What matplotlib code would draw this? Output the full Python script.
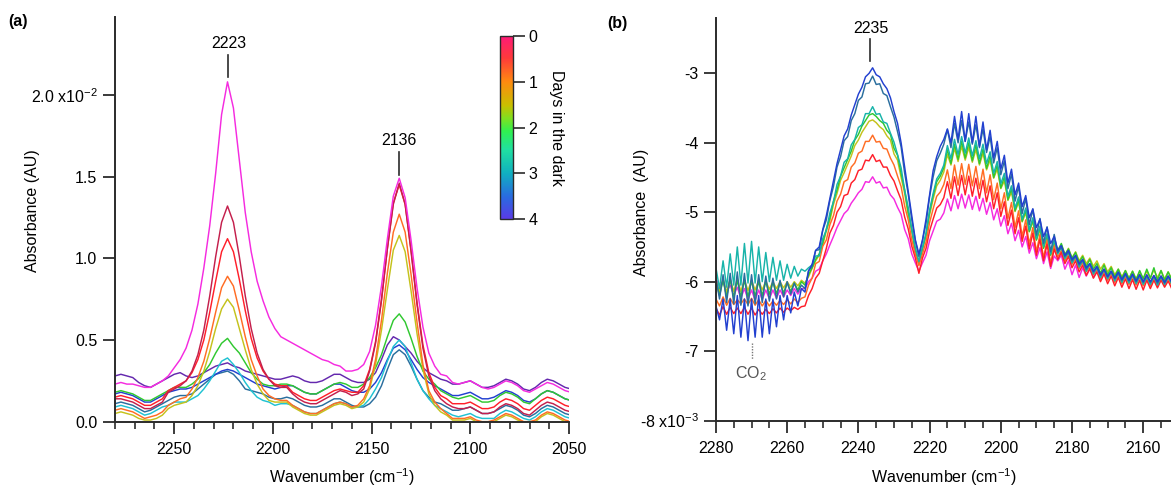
import numpy as np
import matplotlib
matplotlib.use('Agg')
import matplotlib.pyplot as plt
from matplotlib.colors import LinearSegmentedColormap, Normalize
from matplotlib.ticker import MultipleLocator, FixedLocator, FixedFormatter
import matplotlib.colorbar as mcolorbar

plt.rcParams['font.family'] = ['Liberation Sans', 'DejaVu Sans']
plt.rcParams['mathtext.default'] = 'regular'
FS = 11.5
AX_COL = '#2b2b2b'

# ---------------- Panel (a) data: absorbance in units of 1e-2 ----------------
wn_a = np.arange(2283, 2048, -3)   # 2283 ... 2049 cm-1

a_magenta = [0.23, 0.23, 0.24, 0.23, 0.23, 0.22, 0.21, 0.21, 0.23, 0.25,
             0.28, 0.33, 0.38, 0.45, 0.56, 0.72, 0.94, 1.20, 1.52, 1.88,
             2.08, 1.92, 1.60, 1.28, 1.04, 0.86, 0.74, 0.64, 0.57, 0.52,
             0.50, 0.48, 0.46, 0.44, 0.42, 0.40, 0.38, 0.37, 0.35, 0.34,
             0.31, 0.31, 0.32, 0.35, 0.43, 0.59, 0.83, 1.12, 1.38, 1.49,
             1.37, 1.11, 0.82, 0.58, 0.42, 0.34, 0.29, 0.28, 0.24, 0.23,
             0.24, 0.25, 0.23, 0.21, 0.20, 0.21, 0.23, 0.25, 0.24, 0.22,
             0.19, 0.18, 0.20, 0.22, 0.24, 0.23, 0.21, 0.19, 0.18]
a_crimson = [0.13, 0.14, 0.14, 0.13, 0.12, 0.10, 0.08, 0.08, 0.10, 0.12,
             0.18, 0.20, 0.22, 0.25, 0.31, 0.41, 0.56, 0.77, 1.01, 1.22,
             1.32, 1.22, 1.01, 0.77, 0.57, 0.42, 0.32, 0.26, 0.22, 0.21,
             0.21, 0.17, 0.14, 0.12, 0.11, 0.11, 0.13, 0.15, 0.17, 0.19,
             0.18, 0.16, 0.17, 0.20, 0.31, 0.48, 0.74, 1.06, 1.33, 1.46,
             1.33, 1.04, 0.72, 0.45, 0.28, 0.19, 0.14, 0.11, 0.09, 0.08,
             0.08, 0.09, 0.07, 0.05, 0.05, 0.06, 0.09, 0.11, 0.10, 0.08,
             0.05, 0.04, 0.07, 0.10, 0.12, 0.11, 0.09, 0.07, 0.06]
a_red = [0.15, 0.15, 0.16, 0.15, 0.14, 0.12, 0.10, 0.10, 0.12, 0.14,
         0.19, 0.21, 0.23, 0.25, 0.30, 0.38, 0.50, 0.67, 0.86, 1.04,
         1.12, 1.04, 0.87, 0.68, 0.51, 0.39, 0.31, 0.26, 0.23, 0.22,
         0.22, 0.18, 0.16, 0.14, 0.13, 0.13, 0.15, 0.17, 0.19, 0.20,
         0.19, 0.18, 0.18, 0.22, 0.32, 0.49, 0.75, 1.06, 1.34, 1.45,
         1.33, 1.05, 0.73, 0.47, 0.30, 0.21, 0.16, 0.14, 0.11, 0.11,
         0.11, 0.12, 0.10, 0.08, 0.08, 0.09, 0.12, 0.14, 0.13, 0.11,
         0.08, 0.07, 0.10, 0.13, 0.15, 0.14, 0.12, 0.10, 0.09]
a_orange = [0.07, 0.07, 0.08, 0.07, 0.06, 0.04, 0.02, 0.03, 0.04, 0.06,
            0.10, 0.12, 0.14, 0.15, 0.20, 0.27, 0.37, 0.51, 0.67, 0.82,
            0.89, 0.83, 0.68, 0.52, 0.38, 0.28, 0.20, 0.16, 0.14, 0.13,
            0.13, 0.10, 0.08, 0.06, 0.05, 0.05, 0.07, 0.09, 0.11, 0.12,
            0.11, 0.09, 0.10, 0.14, 0.22, 0.38, 0.62, 0.91, 1.16, 1.27,
            1.16, 0.90, 0.61, 0.35, 0.19, 0.12, 0.08, 0.05, 0.02, 0.02,
            0.02, 0.03, 0.01, 0.00, 0.00, 0.01, 0.03, 0.05, 0.04, 0.02,
            0.00, 0.00, 0.01, 0.04, 0.06, 0.05, 0.03, 0.01, 0.00]
a_yellow = [0.05, 0.05, 0.06, 0.05, 0.04, 0.02, 0.01, 0.01, 0.02, 0.04,
            0.08, 0.10, 0.11, 0.12, 0.16, 0.22, 0.31, 0.43, 0.57, 0.69,
            0.75, 0.70, 0.57, 0.44, 0.32, 0.23, 0.17, 0.13, 0.12, 0.12,
            0.12, 0.09, 0.07, 0.05, 0.04, 0.04, 0.06, 0.08, 0.10, 0.11,
            0.10, 0.08, 0.09, 0.12, 0.20, 0.35, 0.56, 0.81, 1.05, 1.14,
            1.04, 0.80, 0.54, 0.32, 0.17, 0.10, 0.06, 0.04, 0.01, 0.01,
            0.01, 0.02, 0.00, 0.00, 0.00, 0.00, 0.02, 0.04, 0.03, 0.01,
            0.00, 0.00, 0.00, 0.03, 0.05, 0.04, 0.02, 0.00, 0.00]
a_green = [0.18, 0.18, 0.19, 0.18, 0.17, 0.15, 0.13, 0.13, 0.15, 0.17,
           0.19, 0.21, 0.21, 0.21, 0.23, 0.26, 0.30, 0.35, 0.42, 0.48,
           0.51, 0.46, 0.42, 0.36, 0.30, 0.26, 0.23, 0.22, 0.22, 0.23,
           0.23, 0.22, 0.20, 0.18, 0.17, 0.17, 0.19, 0.21, 0.23, 0.24,
           0.23, 0.21, 0.21, 0.23, 0.27, 0.33, 0.41, 0.52, 0.62, 0.66,
           0.61, 0.51, 0.40, 0.31, 0.26, 0.23, 0.19, 0.17, 0.15, 0.14,
           0.15, 0.16, 0.14, 0.12, 0.12, 0.13, 0.16, 0.18, 0.17, 0.15,
           0.12, 0.11, 0.14, 0.17, 0.19, 0.18, 0.16, 0.14, 0.13]
a_cyan = [0.09, 0.09, 0.10, 0.09, 0.08, 0.06, 0.04, 0.05, 0.07, 0.09,
          0.10, 0.12, 0.12, 0.12, 0.14, 0.16, 0.20, 0.25, 0.31, 0.37,
          0.39, 0.35, 0.30, 0.24, 0.19, 0.15, 0.13, 0.12, 0.10, 0.11,
          0.11, 0.10, 0.08, 0.06, 0.05, 0.05, 0.07, 0.09, 0.11, 0.12,
          0.11, 0.09, 0.09, 0.10, 0.14, 0.20, 0.27, 0.37, 0.46, 0.50,
          0.46, 0.36, 0.26, 0.19, 0.14, 0.10, 0.08, 0.06, 0.04, 0.03,
          0.04, 0.05, 0.03, 0.02, 0.02, 0.02, 0.05, 0.07, 0.06, 0.04,
          0.02, 0.01, 0.03, 0.06, 0.08, 0.07, 0.05, 0.03, 0.02]
a_purple = [0.26, 0.28, 0.29, 0.28, 0.27, 0.24, 0.22, 0.21, 0.23, 0.25,
            0.27, 0.29, 0.30, 0.28, 0.27, 0.28, 0.30, 0.32, 0.34, 0.35,
            0.36, 0.34, 0.33, 0.31, 0.30, 0.29, 0.28, 0.27, 0.26, 0.26,
            0.27, 0.28, 0.27, 0.25, 0.24, 0.24, 0.25, 0.27, 0.29, 0.29,
            0.27, 0.25, 0.24, 0.24, 0.26, 0.30, 0.38, 0.47, 0.52, 0.50,
            0.46, 0.42, 0.37, 0.33, 0.30, 0.28, 0.26, 0.25, 0.23, 0.23,
            0.24, 0.25, 0.23, 0.21, 0.21, 0.22, 0.24, 0.26, 0.25, 0.23,
            0.20, 0.19, 0.21, 0.24, 0.26, 0.25, 0.23, 0.21, 0.20]
a_blue = [0.16, 0.17, 0.18, 0.17, 0.16, 0.14, 0.12, 0.12, 0.14, 0.16,
          0.18, 0.19, 0.20, 0.20, 0.21, 0.23, 0.25, 0.27, 0.29, 0.31,
          0.32, 0.31, 0.29, 0.27, 0.25, 0.23, 0.22, 0.21, 0.20, 0.21,
          0.22, 0.22, 0.20, 0.18, 0.17, 0.17, 0.19, 0.21, 0.23, 0.23,
          0.21, 0.19, 0.18, 0.18, 0.20, 0.24, 0.30, 0.38, 0.45, 0.47,
          0.44, 0.38, 0.32, 0.27, 0.24, 0.22, 0.20, 0.18, 0.16, 0.16,
          0.17, 0.18, 0.16, 0.14, 0.14, 0.15, 0.17, 0.19, 0.18, 0.16,
          0.13, 0.12, 0.14, 0.17, 0.19, 0.18, 0.16, 0.14, 0.13]
a_steel = [0.11, 0.11, 0.12, 0.11, 0.10, 0.08, 0.06, 0.07, 0.09, 0.11,
           0.13, 0.15, 0.16, 0.16, 0.17, 0.20, 0.23, 0.26, 0.29, 0.30,
           0.31, 0.29, 0.25, 0.20, 0.19, 0.18, 0.17, 0.15, 0.14, 0.14,
           0.15, 0.14, 0.12, 0.10, 0.09, 0.09, 0.10, 0.12, 0.14, 0.14,
           0.12, 0.10, 0.09, 0.09, 0.11, 0.15, 0.22, 0.32, 0.41, 0.44,
           0.41, 0.34, 0.26, 0.19, 0.15, 0.12, 0.11, 0.09, 0.07, 0.07,
           0.08, 0.09, 0.07, 0.05, 0.05, 0.06, 0.08, 0.10, 0.09, 0.07,
           0.04, 0.03, 0.05, 0.08, 0.10, 0.09, 0.07, 0.05, 0.04]

# ---------------- Panel (b) data: absorbance in units of 1e-3 ----------------
wn_b = np.arange(2280, 2151, -1)   # 2280 ... 2152 cm-1

b_blue = ([-6.35, -6.55, -6.25, -6.70, -6.25, -6.75, -6.20, -6.80, -6.25, -6.85,
           -6.25, -6.80, -6.20, -6.80, -6.25, -6.75, -6.25, -6.65, -6.20, -6.55,
           -6.20, -6.45, -6.15, -6.35, -6.10]
          + [-6.15, -5.85, -5.75, -5.55, -5.50, -5.25, -5.05, -4.80, -4.55, -4.30,
             -4.10, -3.90, -3.80, -3.60, -3.45, -3.30, -3.20, -3.05, -3.00, -2.92,
             -3.02, -3.05, -3.15, -3.22, -3.35, -3.55, -3.72, -4.00, -4.35, -4.70,
             -5.05, -5.40, -5.60, -5.40, -5.10, -4.75, -4.40, -4.20, -4.05, -3.95]
          + [-3.80, -4.00, -3.62, -3.95, -3.55, -3.98, -3.58, -4.00, -3.62, -4.05,
             -3.70, -4.10, -3.82, -4.22, -3.98, -4.38, -4.18, -4.58, -4.38, -4.75,
             -4.58, -4.92, -4.76, -5.08, -4.95, -5.22, -5.10, -5.35, -5.22, -5.45,
             -5.35]
          + [-5.55, -5.48, -5.62, -5.55, -5.68, -5.62, -5.74, -5.68, -5.80, -5.74,
             -5.85, -5.78, -5.90, -5.82, -5.93, -5.85, -5.95, -5.86, -5.97, -5.88,
             -5.98, -5.89, -5.99, -5.90, -6.00, -5.90, -6.00, -5.91, -6.00, -5.92,
             -6.01, -5.92, -6.00])
b_steel = ([-5.95, -6.25, -5.90, -6.30, -5.88, -6.32, -5.86, -6.34, -5.88, -6.35,
            -5.90, -6.32, -5.90, -6.30, -5.92, -6.28, -5.95, -6.25, -5.98, -6.22,
            -6.00, -6.18, -6.02, -6.15, -6.05]
           + [-6.10, -5.84, -5.78, -5.55, -5.54, -5.26, -5.11, -4.83, -4.63, -4.35,
              -4.20, -3.97, -3.91, -3.68, -3.58, -3.39, -3.34, -3.15, -3.14, -3.04,
              -3.16, -3.15, -3.29, -3.32, -3.48, -3.63, -3.84, -4.06, -4.44, -4.74,
              -5.11, -5.41, -5.64, -5.41, -5.16, -4.78, -4.49, -4.26, -4.15, -4.02]
           + [-3.81, -4.07, -3.72, -4.00, -3.68, -3.98, -3.70, -4.02, -3.74, -4.07,
              -3.80, -4.14, -3.91, -4.29, -4.07, -4.46, -4.26, -4.66, -4.45, -4.84,
              -4.63, -5.02, -4.80, -5.18, -4.96, -5.33, -5.09, -5.45, -5.21, -5.57,
              -5.32]
           + [-5.58, -5.50, -5.64, -5.57, -5.70, -5.63, -5.76, -5.69, -5.82, -5.74,
              -5.86, -5.79, -5.91, -5.82, -5.93, -5.85, -5.96, -5.87, -5.98, -5.89,
              -5.99, -5.90, -6.00, -5.90, -6.01, -5.91, -6.01, -5.92, -6.02, -5.92,
              -6.02, -5.92, -6.01])
b_teal = ([-5.80, -6.10, -5.70, -6.08, -5.60, -6.05, -5.50, -6.05, -5.45, -6.02,
           -5.42, -6.02, -5.50, -6.00, -5.58, -6.00, -5.65, -5.98, -5.70, -5.98,
           -5.75, -5.95, -5.78, -5.92, -5.82]
          + [-5.85, -5.80, -5.76, -5.63, -5.63, -5.38, -5.26, -5.01, -4.85, -4.60,
             -4.48, -4.28, -4.23, -4.03, -3.95, -3.78, -3.74, -3.58, -3.58, -3.48,
             -3.59, -3.58, -3.70, -3.72, -3.86, -3.99, -4.17, -4.36, -4.68, -4.93,
             -5.26, -5.51, -5.71, -5.51, -5.30, -4.97, -4.73, -4.52, -4.44, -4.32]
          + [-4.04, -4.23, -3.95, -4.17, -3.91, -4.15, -3.93, -4.19, -3.97, -4.23,
             -4.02, -4.30, -4.13, -4.44, -4.27, -4.59, -4.44, -4.77, -4.62, -4.94,
             -4.78, -5.10, -4.94, -5.25, -5.08, -5.38, -5.20, -5.49, -5.31, -5.60,
             -5.40]
          + [-5.60, -5.51, -5.67, -5.58, -5.73, -5.64, -5.79, -5.70, -5.85, -5.75,
             -5.89, -5.80, -5.94, -5.83, -5.96, -5.86, -5.99, -5.88, -6.01, -5.90,
             -6.02, -5.91, -6.03, -5.92, -6.04, -5.93, -6.04, -5.93, -6.05, -5.93,
             -6.04, -5.94, -6.03])
b_green = ([-6.00, -6.20, -5.98, -6.22, -5.97, -6.23, -5.98, -6.22, -5.98, -6.22,
            -5.99, -6.21, -6.00, -6.20, -6.00, -6.18, -6.01, -6.17, -6.02, -6.16,
            -6.02, -6.14, -6.02, -6.12, -6.00]
           + [-6.05, -5.90, -5.80, -5.68, -5.60, -5.44, -5.24, -5.08, -4.84, -4.68,
              -4.48, -4.36, -4.24, -4.12, -3.96, -3.88, -3.76, -3.68, -3.60, -3.58,
              -3.62, -3.68, -3.72, -3.82, -3.88, -4.08, -4.18, -4.44, -4.68, -5.00,
              -5.24, -5.56, -5.72, -5.52, -5.32, -5.00, -4.76, -4.56, -4.48, -4.36]
           + [-4.10, -4.30, -4.02, -4.24, -3.98, -4.22, -4.00, -4.26, -4.03, -4.30,
              -4.09, -4.37, -4.19, -4.50, -4.32, -4.65, -4.49, -4.82, -4.66, -4.98,
              -4.82, -5.13, -4.97, -5.28, -5.11, -5.40, -5.22, -5.52, -5.33, -5.62,
              -5.42]
           + [-5.55, -5.45, -5.61, -5.53, -5.66, -5.58, -5.72, -5.64, -5.78, -5.68,
              -5.82, -5.74, -5.88, -5.76, -5.90, -5.80, -5.93, -5.82, -5.95, -5.84,
              -5.96, -5.85, -5.97, -5.84, -5.96, -5.82, -5.95, -5.80, -5.98, -5.84,
              -5.98, -5.86, -5.97])
b_yellow = ([-5.98, -6.14, -5.96, -6.15, -5.96, -6.14, -5.96, -6.14, -5.97, -6.13,
             -5.98, -6.12, -5.98, -6.12, -5.99, -6.11, -6.00, -6.10, -6.00, -6.09,
             -6.00, -6.08, -6.00, -6.06, -5.98]
            + [-6.02, -5.93, -5.81, -5.70, -5.62, -5.47, -5.27, -5.12, -4.89, -4.73,
               -4.54, -4.43, -4.31, -4.19, -4.04, -3.96, -3.85, -3.77, -3.69, -3.67,
               -3.71, -3.77, -3.81, -3.90, -3.96, -4.16, -4.25, -4.50, -4.73, -5.04,
               -5.27, -5.58, -5.73, -5.54, -5.35, -5.04, -4.81, -4.62, -4.54, -4.42]
            + [-4.17, -4.32, -4.08, -4.27, -4.05, -4.25, -4.07, -4.28, -4.10, -4.32,
               -4.15, -4.39, -4.25, -4.51, -4.38, -4.66, -4.55, -4.83, -4.71, -4.99,
               -4.86, -5.14, -5.01, -5.28, -5.14, -5.40, -5.26, -5.51, -5.36, -5.61,
               -5.45]
            + [-5.56, -5.47, -5.62, -5.52, -5.66, -5.57, -5.70, -5.62, -5.74, -5.66,
               -5.78, -5.70, -5.82, -5.74, -5.86, -5.78, -5.90, -5.82, -5.93, -5.84,
               -5.95, -5.85, -5.96, -5.86, -5.96, -5.85, -5.95, -5.83, -5.94, -5.84,
               -5.96, -5.86, -5.96])
b_orange = ([-6.25, -6.35, -6.22, -6.34, -6.24, -6.33, -6.26, -6.32, -6.25, -6.33,
             -6.24, -6.34, -6.26, -6.35, -6.27, -6.35, -6.28, -6.34, -6.27, -6.33,
             -6.26, -6.32, -6.25, -6.30, -6.24]
            + [-6.22, -6.05, -5.95, -5.74, -5.71, -5.49, -5.40, -5.18, -5.05, -4.84,
               -4.74, -4.56, -4.53, -4.35, -4.29, -4.15, -4.12, -3.98, -3.98, -3.89,
               -3.99, -3.98, -4.08, -4.09, -4.22, -4.32, -4.48, -4.63, -4.91, -5.11,
               -5.40, -5.60, -5.77, -5.60, -5.43, -5.15, -4.95, -4.77, -4.71, -4.60]
            + [-4.39, -4.66, -4.32, -4.61, -4.30, -4.60, -4.31, -4.62, -4.34, -4.66,
               -4.38, -4.72, -4.46, -4.82, -4.58, -4.95, -4.72, -5.09, -4.86, -5.22,
               -4.98, -5.35, -5.11, -5.46, -5.22, -5.57, -5.32, -5.66, -5.40, -5.74,
               -5.48]
            + [-5.64, -5.55, -5.70, -5.61, -5.75, -5.66, -5.81, -5.72, -5.86, -5.77,
               -5.90, -5.82, -5.95, -5.85, -5.98, -5.88, -6.01, -5.90, -6.03, -5.92,
               -6.04, -5.93, -6.05, -5.94, -6.06, -5.95, -6.06, -5.95, -6.07, -5.96,
               -6.06, -5.96, -6.05])
b_red = ([-6.38, -6.48, -6.36, -6.47, -6.37, -6.46, -6.38, -6.46, -6.37, -6.47,
          -6.38, -6.48, -6.40, -6.47, -6.40, -6.46, -6.39, -6.45, -6.38, -6.44,
          -6.38, -6.42, -6.37, -6.40, -6.36]
         + [-6.35, -6.20, -6.10, -5.95, -5.88, -5.70, -5.52, -5.30, -5.19, -5.00,
            -4.92, -4.76, -4.74, -4.58, -4.53, -4.40, -4.38, -4.25, -4.26, -4.17,
            -4.27, -4.25, -4.35, -4.35, -4.47, -4.55, -4.69, -4.82, -5.07, -5.24,
            -5.49, -5.66, -5.88, -5.66, -5.52, -5.27, -5.10, -4.94, -4.89, -4.79]
         + [-4.56, -4.80, -4.49, -4.76, -4.47, -4.75, -4.48, -4.77, -4.51, -4.80,
            -4.54, -4.85, -4.62, -4.95, -4.72, -5.06, -4.85, -5.19, -4.97, -5.31,
            -5.08, -5.42, -5.20, -5.53, -5.30, -5.62, -5.39, -5.70, -5.46, -5.78,
            -5.53]
         + [-5.68, -5.58, -5.74, -5.64, -5.80, -5.70, -5.86, -5.76, -5.91, -5.81,
            -5.95, -5.86, -6.00, -5.89, -6.03, -5.92, -6.06, -5.94, -6.08, -5.96,
            -6.10, -5.97, -6.11, -5.98, -6.12, -5.98, -6.10, -5.98, -6.09, -5.98,
            -6.08, -5.99, -6.10])
b_magenta = ([-5.95, -6.08, -6.00, -6.15, -6.05, -6.20, -6.08, -6.24, -6.10, -6.26,
              -6.12, -6.27, -6.12, -6.26, -6.12, -6.25, -6.12, -6.24, -6.12, -6.22,
              -6.12, -6.20, -6.10, -6.18, -6.10]
             + [-6.10, -6.00, -5.95, -5.85, -5.82, -5.70, -5.60, -5.47, -5.35, -5.22,
                -5.12, -5.02, -4.97, -4.87, -4.80, -4.72, -4.67, -4.56, -4.57, -4.49,
                -4.58, -4.56, -4.65, -4.64, -4.75, -4.81, -4.93, -5.03, -5.25, -5.38,
                -5.60, -5.73, -5.85, -5.73, -5.62, -5.41, -5.27, -5.13, -5.10, -5.01]
             + [-4.81, -4.98, -4.76, -4.95, -4.74, -4.94, -4.75, -4.96, -4.77, -4.98,
                -4.80, -5.03, -4.86, -5.11, -4.95, -5.20, -5.05, -5.31, -5.16, -5.41,
                -5.26, -5.50, -5.35, -5.59, -5.44, -5.67, -5.51, -5.74, -5.57, -5.81,
                -5.63]
             + [-5.70, -5.62, -5.82, -5.70, -5.90, -5.76, -5.94, -5.80, -5.92, -5.82,
                -5.94, -5.84, -5.96, -5.86, -5.97, -5.88, -5.98, -5.89, -5.99, -5.90,
                -6.00, -5.90, -6.00, -5.91, -6.01, -5.91, -6.01, -5.92, -6.01, -5.92,
                -6.01, -5.92, -6.01])

days_ticks = [0, 1, 2, 3, 4]
a_yticklabels = ['0.0', '0.5', '1.0', '1.5', '2.0 x10$^{-2}$']
b_yticklabels = ['-8 x10$^{-3}$', '-7', '-6', '-5', '-4', '-3']

# colours
C = dict(magenta='#f52be0', crimson='#c41f4c', red='#ff1f2a', orange='#ff6d24',
         yellow='#c4c21c', green='#30c830', cyan='#1fc2d2', purple='#6428ae',
         blue='#2240d0', steel='#2a6e9e', teal='#18b4aa')

cmap = LinearSegmentedColormap.from_list('days', [
    (0.0, '#ff1a78'), (0.12, '#ff3a3a'), (0.25, '#ff8a10'), (0.38, '#c8c000'),
    (0.45, '#80e020'), (0.52, '#30f050'), (0.62, '#20e0a0'), (0.75, '#10b0c0'),
    (0.88, '#2a6ae0'), (1.0, '#5a3ae6')])


def style_axes(ax):
    for s in ('top', 'right'):
        ax.spines[s].set_visible(False)
    for s in ('left', 'bottom'):
        ax.spines[s].set_color(AX_COL)
        ax.spines[s].set_linewidth(1.4)
    ax.tick_params(which='major', direction='out', length=8.6, width=1.3,
                   color=AX_COL, labelsize=FS, pad=4)
    ax.tick_params(which='minor', direction='out', length=4.8, width=1.2,
                   color=AX_COL)
    ax.tick_params(axis='x', which='major', pad=6)


def plot_curve(ax, x, y, col):
    n = min(len(x), len(y))
    ax.plot(x[:n], y[:n], color=col, lw=1.05, solid_joinstyle='round')


fig = plt.figure(figsize=(11.71, 4.88), dpi=100)

# ---------------- Panel (a) ----------------
axa = fig.add_axes([0.0982, 0.1359, 0.3877, 0.8293])
for name, vals in [('purple', a_purple), ('steel', a_steel), ('blue', a_blue),
                   ('cyan', a_cyan), ('green', a_green), ('yellow', a_yellow),
                   ('orange', a_orange), ('red', a_red), ('crimson', a_crimson),
                   ('magenta', a_magenta)]:
    plot_curve(axa, wn_a, vals, C[name])
axa.set_xlim(2280, 2050)
axa.set_ylim(0, 2.477)
style_axes(axa)
axa.xaxis.set_major_locator(MultipleLocator(50))
axa.xaxis.set_minor_locator(MultipleLocator(10))
axa.yaxis.set_major_locator(FixedLocator([0, 0.5, 1.0, 1.5, 2.0]))
axa.yaxis.set_major_formatter(FixedFormatter(a_yticklabels))

axa.plot([2222.5, 2222.5], [2.11, 2.244], color=AX_COL, lw=1.2, clip_on=False)
axa.text(2222.5, 2.317, '2223', ha='center', va='center', fontsize=FS)
axa.plot([2136.3, 2136.3], [1.509, 1.65], color=AX_COL, lw=1.2)
axa.text(2136.3, 1.724, '2136', ha='center', va='center', fontsize=FS)

# colorbar
cax = fig.add_axes([0.4270, 0.5506, 0.0108, 0.3762])
cb = mcolorbar.ColorbarBase(cax, cmap=cmap, norm=Normalize(0, 4),
                            orientation='vertical', ticks=days_ticks)
cax.invert_yaxis()
cb.outline.set_linewidth(1.0)
cb.outline.set_edgecolor(AX_COL)
cax.tick_params(length=8.5, width=1.2, color=AX_COL, labelsize=FS, pad=3)
cax.set_yticklabels([str(d) for d in days_ticks])
fig.text(556.7 / 1171, 1 - 127.5 / 488, 'Days in the dark', rotation=270,
         ha='center', va='center', fontsize=FS)

# ---------------- Panel (b) ----------------
axb = fig.add_axes([0.6114, 0.1383, 0.3886, 0.8242])
for name, vals in [('magenta', b_magenta), ('yellow', b_yellow), ('green', b_green),
                   ('orange', b_orange), ('red', b_red), ('teal', b_teal),
                   ('steel', b_steel), ('blue', b_blue)]:
    plot_curve(axb, wn_b, vals, C[name])
axb.set_xlim(2280, 2152.2)
axb.set_ylim(-8, -2.207)
style_axes(axb)
axb.xaxis.set_major_locator(MultipleLocator(20))
axb.xaxis.set_minor_locator(MultipleLocator(5))
axb.yaxis.set_major_locator(FixedLocator([-8, -7, -6, -5, -4, -3]))
axb.yaxis.set_major_formatter(FixedFormatter(b_yticklabels))

axb.plot([2236.6, 2236.6], [-2.50, -2.82], color=AX_COL, lw=1.2)
axb.text(2236.6, -2.352, '2235', ha='center', va='center', fontsize=FS)
axb.plot([2270, 2270], [-6.88, -7.12], color='#777777', lw=1.0, ls=(0, (1, 1)))
axb.text(2270.2, -7.33, 'CO$_2$', ha='center', va='center', fontsize=FS,
         color='#555555')

# ---------------- labels ----------------
fig.text(32 / 1171, 1 - 211 / 488, 'Absorbance (AU)', rotation=90,
         ha='center', va='center', fontsize=FS)
fig.text(641.7 / 1171, 1 - 212 / 488, 'Absorbance  (AU)', rotation=90,
         ha='center', va='center', fontsize=FS)
fig.text(342 / 1171, 1 - 477 / 488, 'Wavenumber (cm$^{-1}$)',
         ha='center', va='center', fontsize=FS)
fig.text(944 / 1171, 1 - 477 / 488, 'Wavenumber (cm$^{-1}$)',
         ha='center', va='center', fontsize=FS)
fig.text(18 / 1171, 1 - 21.5 / 488, '(a)', ha='center', va='center',
         fontsize=FS, fontweight='bold')
fig.text(617.5 / 1171, 1 - 23.5 / 488, '(b)', ha='center', va='center',
         fontsize=FS, fontweight='bold')

fig.savefig('out.png', dpi=100)
